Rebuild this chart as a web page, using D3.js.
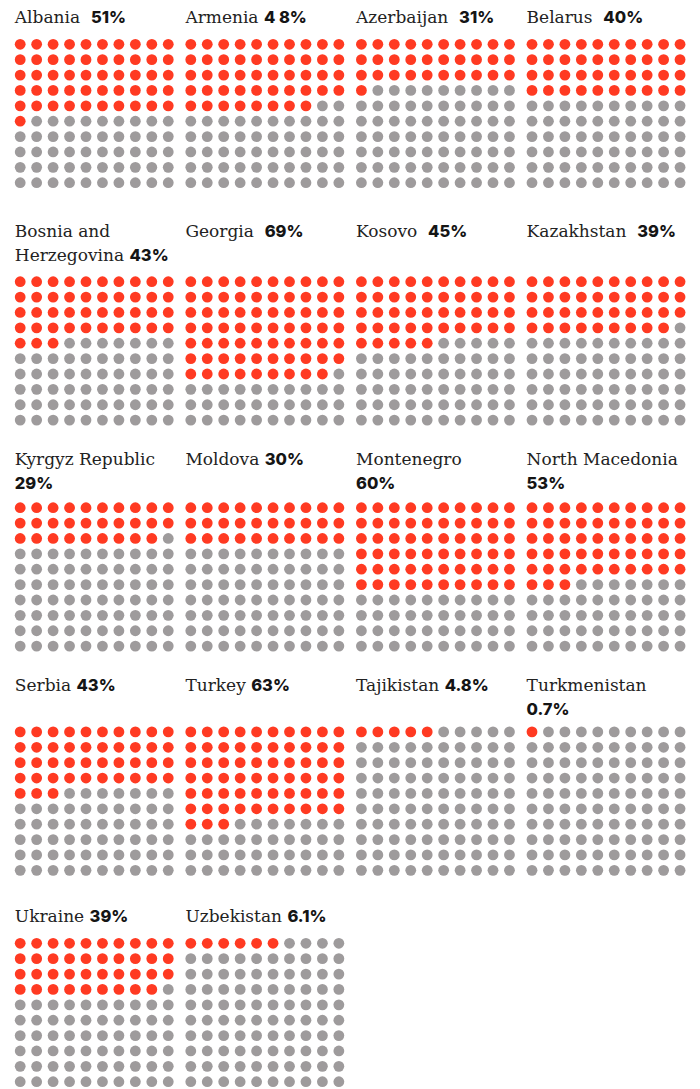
<!DOCTYPE html>
<html>
<head>
<meta charset="utf-8">
<script src="https://cdn.jsdelivr.net/npm/d3@7"></script>
<style>
  html, body { margin: 0; padding: 0; background: #fff; }
  svg { display: block; }
  text { white-space: pre; }
</style>
</head>
<body>
<script>
// ---- data ----
const countries = ["Albania", "Armenia", "Azerbaijan", "Belarus",
  "Bosnia and\nHerzegovina", "Georgia", "Kosovo", "Kazakhstan",
  "Kyrgyz Republic", "Moldova", "Montenegro", "North Macedonia",
  "Serbia", "Turkey", "Tajikistan", "Turkmenistan",
  "Ukraine", "Uzbekistan"];
const values = [51, 48, 31, 40, 43, 69, 45, 39, 29, 30, 60, 53, 43, 63, 4.8, 0.7, 39, 6.1];
const pctLabels = ["51%", "4 8%", "31%", "40%", "43%", "69%", "45%", "39%",
  "29%", "30%", "60%", "53%", "43%", "63%", "4.8%", "0.7%", "39%", "6.1%"];
const separators = ["  ", " ", "  ", "  ", " ", "  ", "  ", "  ",
  "\n", " ", "\n", "\n", " ", " ", " ", "\n", " ", " "];

// ---- layout ----
const W = 700, H = 1089;
const nCols = 4, gridN = 10;
const rowLabelY = [22.5, 237.3, 465, 690.5, 922.3];   // baseline of first label line
const rowDotY = [44.3, 281.7, 507.7, 731.9, 943.3];   // centre of first dot row
const lineH = 24;
const r = 5.4;
const RED = "#ff3a22", GREY = "#9e9b9c";

const svg = d3.select("body").append("svg").attr("width", W).attr("height", H);
svg.append("rect").attr("width", W).attr("height", H).attr("fill", "#fff");

const colX = d3.scaleBand().domain(d3.range(nCols)).range([14.8, 14.8 + 170.6 * nCols]).padding(0);
const dx = d3.scaleLinear().domain([0, gridN - 1]).range([r, r + 16.45 * (gridN - 1)]);
const dy = d3.scaleLinear().domain([0, gridN - 1]).range([0, 15.38 * (gridN - 1)]);

const data = countries.map((c, i) => ({
  name: c, value: values[i], pct: pctLabels[i], sep: separators[i],
  col: i % nCols, row: Math.floor(i / nCols)
}));

const panels = svg.selectAll("g.panel").data(data).join("g")
  .attr("class", "panel")
  .attr("transform", d => `translate(${colX(d.col)},0)`);

panels.each(function(d) {
  const g = d3.select(this);
  const nameLines = d.name.split("\n");
  let lines;
  if (d.sep === "\n") {
    lines = nameLines.map(t => [{ t, bold: false }]).concat([[{ t: d.pct, bold: true }]]);
  } else {
    lines = nameLines.map(t => [{ t, bold: false }]);
    lines[lines.length - 1].push({ t: d.sep, bold: false }, { t: d.pct, bold: true });
  }
  lines.forEach((segs, li) => {
    const txt = g.append("text")
      .attr("x", 0)
      .attr("y", rowLabelY[d.row] + li * lineH)
      .attr("xml:space", "preserve");
    segs.forEach(s => {
      txt.append("tspan")
        .text(s.t)
        .attr("font-family", s.bold ? "Inter, 'Noto Sans', sans-serif" : "'DejaVu Serif', serif")
        .attr("font-size", s.bold ? 16.5 : 17)
        .attr("font-weight", s.bold ? 800 : 400)
        .attr("fill", s.bold ? "#151515" : "#222");
    });
  });

  const n = Math.round(d.value);
  const cells = d3.range(gridN * gridN).map(k => ({ k, on: k < n }));
  g.selectAll("circle").data(cells).join("circle")
    .attr("cx", c => dx(c.k % gridN))
    .attr("cy", c => rowDotY[d.row] + dy(Math.floor(c.k / gridN)))
    .attr("r", r)
    .attr("fill", c => c.on ? RED : GREY);
});
</script>
</body>
</html>
